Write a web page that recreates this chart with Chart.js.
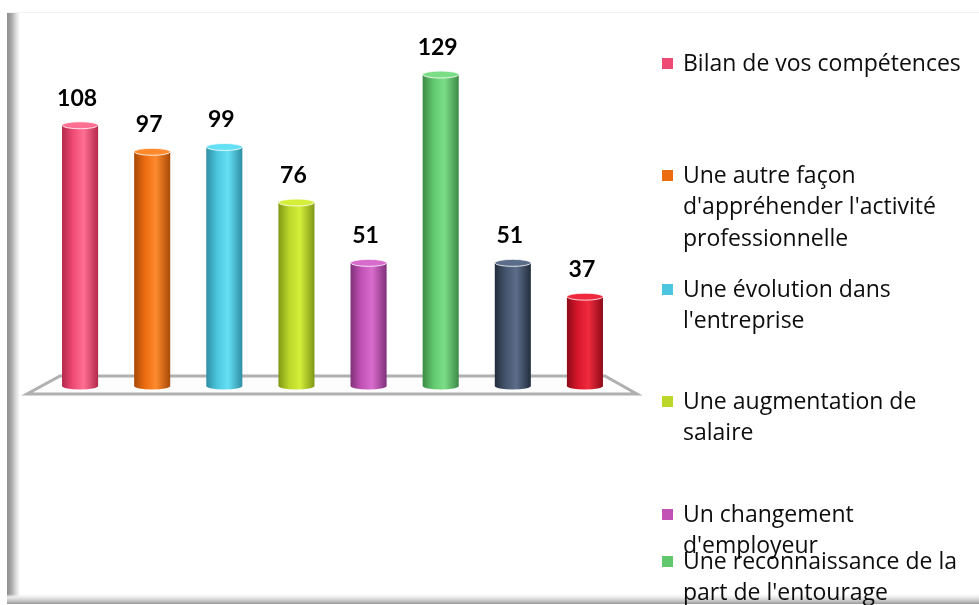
<!DOCTYPE html>
<html>
<head>
<meta charset="utf-8">
<script src="https://cdn.jsdelivr.net/npm/chart.js@4.4.1/dist/chart.umd.min.js"></script>
<style>
  html, body { margin: 0; padding: 0; background: #fff; overflow: hidden; }
  .frame {
    position: absolute; left: 7px; top: 12px; width: 980px; height: 591px;
    background:
      linear-gradient(to top, #9a9a9a 0, #c4c4c4 3px, #eeeeee 7px, rgba(255,255,255,0) 10px),
      linear-gradient(to right, #8e8e8e 0, #a4a4a4 4px, #dcdcdc 9px, #ffffff 13px);
    border-top: 1px solid #f2f2f2;
  }
  .wrap { position: absolute; left: 0; top: 0; width: 979px; height: 605px; }
</style>
</head>
<body>
<div class="frame"></div>
<div class="wrap"><canvas id="chart"></canvas></div>
<script>
// categories (legend text already split in lines)
const categories = [
  ["Bilan de vos compétences"],
  ["Une autre façon", "d'appréhender l'activité", "professionnelle"],
  ["Une évolution dans", "l'entreprise"],
  ["Une augmentation de", "salaire"],
  ["Un changement", "d'employeur"],
  ["Une reconnaissance de la", "part de l'entourage"],
  ["Autre"],
  ["Autre"]
];
const values = [108, 97, 99, 76, 51, 129, 51, 37];
const colors = ["#ef4a73", "#ec6c10", "#4cc6de", "#bcd72a", "#c252b6", "#62c86e", "#45556f", "#d8172c"];
const lightColors = ["#ff6f93", "#ff8a2e", "#66e0f4", "#d4ee3a", "#d86ccc", "#7ade86", "#5c6d8a", "#f02a3e"];
const darkColors = ["#b4284c", "#a84a06", "#2e8ea4", "#7f9816", "#80307a", "#3c8a46", "#222c3c", "#8e0a18"];

// legend rows (top line centre y), last one squeezed as in the picture
const legendRowY = [63, 175, 289, 401, 514, 561, 673, 785];

function barGradient(c) {
  const ch = c.chart;
  const xs = ch.scales.x;
  const i = c.dataIndex;
  if (!xs || !ch.chartArea) return colors[i];
  const cx = xs.getPixelForValue(i);
  const half = xs.width / categories.length * 0.25;
  const g = ch.ctx.createLinearGradient(cx - half, 0, cx + half, 0);
  g.addColorStop(0, darkColors[i]);
  g.addColorStop(0.3, colors[i]);
  g.addColorStop(0.6, lightColors[i]);
  g.addColorStop(1, darkColors[i]);
  return g;
}

const floorPlugin = {
  id: "floor",
  beforeDatasetsDraw(chart) {
    const { ctx, chartArea, scales } = chart;
    const y0 = scales.y.getPixelForValue(0);
    ctx.save();
    ctx.beginPath();
    ctx.moveTo(chartArea.left + 16, y0 - 10);
    ctx.lineTo(chartArea.right - 16, y0 - 10);
    ctx.lineTo(chartArea.right + 16, y0 + 8);
    ctx.lineTo(chartArea.left - 17, y0 + 8);
    ctx.closePath();
    ctx.fillStyle = "#fdfdfd";
    ctx.fill();
    ctx.strokeStyle = "#b0b0b0";
    ctx.lineWidth = 3;
    ctx.stroke();
    ctx.restore();
  }
};

const cylinderPlugin = {
  id: "cylinder",
  afterDatasetsDraw(chart) {
    const { ctx } = chart;
    const meta = chart.getDatasetMeta(0);
    ctx.save();
    meta.data.forEach((bar, i) => {
      const half = bar.width / 2;
      const ry = 3.5;
      const g = ctx.createLinearGradient(bar.x - half, 0, bar.x + half, 0);
      g.addColorStop(0, darkColors[i]);
      g.addColorStop(0.3, colors[i]);
      g.addColorStop(0.6, lightColors[i]);
      g.addColorStop(1, darkColors[i]);
      // rounded bottom
      ctx.beginPath();
      ctx.ellipse(bar.x, bar.base, half, ry, 0, 0, Math.PI);
      ctx.fillStyle = g;
      ctx.fill();
      // top cap
      ctx.beginPath();
      ctx.ellipse(bar.x, bar.y, half, ry, 0, 0, Math.PI * 2);
      ctx.fillStyle = lightColors[i];
      ctx.fill();
      ctx.strokeStyle = "rgba(255,255,255,0.8)";
      ctx.lineWidth = 1;
      ctx.stroke();
      // value label
      ctx.fillStyle = "#000";
      ctx.font = "bold 23px Lato, 'Open Sans', sans-serif";
      ctx.textAlign = "center";
      ctx.textBaseline = "middle";
      ctx.fillText(String(values[i]), bar.x - 3, bar.y - 27);
    });
    ctx.restore();
  }
};

const legendPlugin = {
  id: "sideLegend",
  afterDraw(chart) {
    const { ctx } = chart;
    ctx.save();
    ctx.font = "23px 'Open Sans', sans-serif";
    ctx.textBaseline = "middle";
    ctx.textAlign = "left";
    categories.forEach((lines, i) => {
      const y = legendRowY[i];
      ctx.fillStyle = colors[i];
      ctx.fillRect(662, y - 5, 11, 11);
      ctx.fillStyle = "#0d0d0d";
      lines.forEach((t, k) => ctx.fillText(t, 683, y + 1 + k * 31.5));
    });
    ctx.restore();
  }
};

new Chart(document.getElementById("chart"), {
  type: "bar",
  data: {
    labels: categories,
    datasets: [{
      data: values,
      backgroundColor: barGradient,
      borderWidth: 0,
      barPercentage: 0.5,
      categoryPercentage: 1
    }]
  },
  options: {
    responsive: true,
    maintainAspectRatio: false,
    animation: false,
    layout: { padding: { left: 44, right: 358, top: 48, bottom: 219 } },
    scales: {
      x: { display: false },
      y: { display: false, min: 0, max: 140 }
    },
    plugins: { legend: { display: false }, tooltip: { enabled: false } }
  },
  plugins: [floorPlugin, cylinderPlugin, legendPlugin]
});
</script>
</body>
</html>
